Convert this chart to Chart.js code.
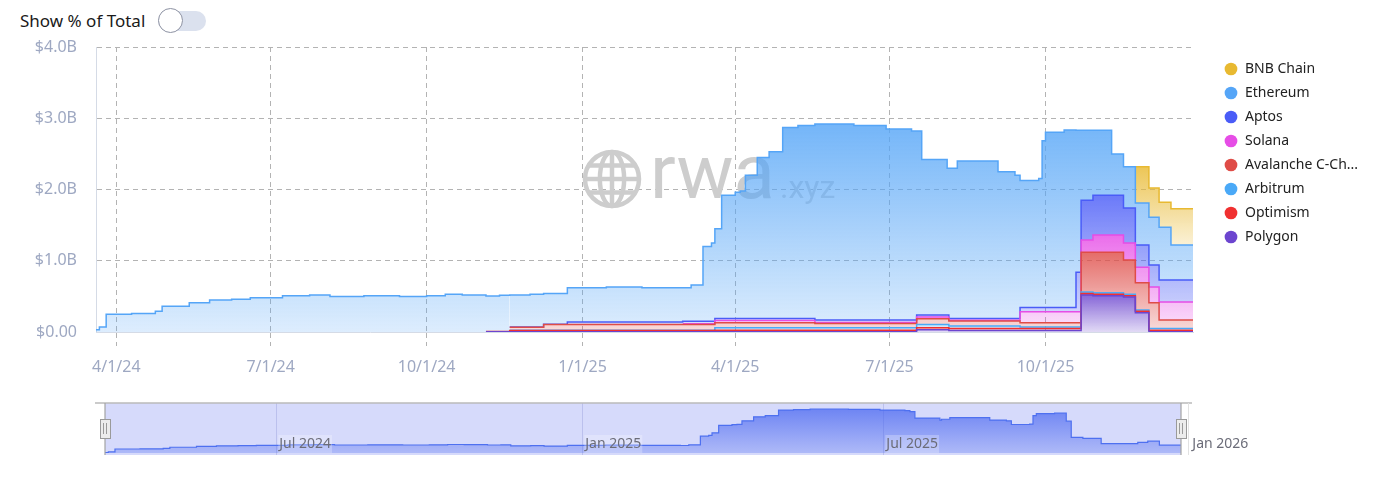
<!DOCTYPE html>
<html><head><meta charset="utf-8">
<script src="https://cdn.jsdelivr.net/npm/chart.js@4.4.1/dist/chart.umd.min.js"></script>
<style>
html,body{margin:0;padding:0;background:#fff;}
body{width:1389px;height:482px;position:relative;overflow:hidden;font-family:"Noto Sans",sans-serif;}
#toggleLabel{position:absolute;left:20px;top:8px;font-size:17px;color:#1a1a1a;line-height:26px;}
#track{position:absolute;left:158px;top:11px;width:48px;height:20px;border-radius:10px;background:#dbe1ee;}
#knob{position:absolute;left:158px;top:8px;width:25px;height:25px;border-radius:50%;background:#fff;border:1px solid #8d92a3;box-sizing:border-box;}
#mainWrap{position:absolute;left:0;top:0;width:1389px;height:380px;}
#navWrap{position:absolute;left:0;top:395px;width:1389px;height:75px;}
</style></head>
<body>
<div id="toggleLabel">Show % of Total</div>
<div id="track"></div><div id="knob"></div>
<div id="mainWrap"><canvas id="main" width="1389" height="380"></canvas></div>
<div id="navWrap"><canvas id="nav" width="1389" height="75"></canvas></div>
<script>
// ---------- DATA ----------
const dates = [
 '2024-03-20','2024-03-22','2024-03-26','2024-04-10','2024-04-24','2024-04-28','2024-05-14','2024-05-26','2024-06-08','2024-06-19',
 '2024-07-08','2024-07-24','2024-08-05','2024-08-25','2024-09-15','2024-10-01','2024-10-12','2024-10-22','2024-11-05','2024-11-13',
 '2024-11-19','2024-12-01','2024-12-09','2024-12-23','2025-01-15','2025-02-05','2025-03-01','2025-03-06','2025-03-13','2025-03-18',
 '2025-03-20','2025-03-24','2025-04-01','2025-04-04','2025-04-07','2025-04-14','2025-04-21','2025-04-29','2025-05-08','2025-05-18',
 '2025-06-10','2025-06-29','2025-07-14','2025-07-17','2025-07-20','2025-08-04','2025-08-05','2025-08-10','2025-09-03','2025-09-13',
 '2025-09-16','2025-09-27','2025-09-29','2025-10-01','2025-10-12','2025-10-19','2025-10-22','2025-10-29','2025-11-09','2025-11-16',
 '2025-11-23','2025-12-01','2025-12-07','2025-12-14','2025-12-27'
];
// values in $B
const polygon = [
 0,0,0,0,0,0,0,0,0,0,
 0,0,0,0,0,0,0,0,0.003,0.003,
 0.005,0.005,0.005,0.005,0.005,0.005,0.005,0.005,0.005,0.005,
 0.005,0.005,0.005,0.005,0.005,0.005,0.005,0.005,0.005,0.005,
 0.005,0.005,0.005,0.03,0.03,0.03,0.02,0.02,0.02,0.02,
 0.02,0.02,0.02,0.02,0.02,0.02,0.52,0.51,0.51,0.49,
 0.27,0.005,0.005,0.005,0.005];
const optimism = [
 0,0,0,0,0,0,0,0,0,0,
 0,0,0,0,0,0,0,0,0.003,0.003,
 0.015,0.015,0.015,0.015,0.015,0.015,0.015,0.015,0.015,0.015,
 0.02,0.02,0.02,0.02,0.02,0.02,0.02,0.02,0.02,0.02,
 0.02,0.02,0.02,0.03,0.03,0.03,0.03,0.03,0.03,0.03,
 0.03,0.03,0.03,0.03,0.03,0.03,0.02,0.02,0.02,0.02,
 0.02,0.02,0.02,0.02,0.02];
const arbitrum = [
 0,0,0,0,0,0,0,0,0,0,
 0,0,0,0,0,0,0,0,0,0,
 0.005,0.005,0.005,0.005,0.005,0.005,0.005,0.005,0.005,0.005,
 0.035,0.035,0.035,0.035,0.035,0.035,0.035,0.035,0.035,0.035,
 0.035,0.035,0.035,0.045,0.045,0.045,0.035,0.035,0.035,0.035,
 0.02,0.02,0.02,0.02,0.02,0.02,0.02,0.02,0.02,0.02,
 0.02,0.025,0.025,0.025,0.025];
const avalanche = [
 0,0,0,0,0,0,0,0,0,0,
 0,0,0,0,0,0,0,0,0,0,
 0.04,0.04,0.08,0.08,0.08,0.08,0.08,0.08,0.08,0.08,
 0.07,0.07,0.07,0.07,0.07,0.07,0.07,0.07,0.07,0.06,
 0.06,0.06,0.06,0.08,0.08,0.08,0.07,0.07,0.07,0.07,
 0.06,0.06,0.06,0.06,0.06,0.06,0.56,0.57,0.57,0.48,
 0.38,0.36,0.12,0.12,0.12];
const solana = [
 0,0,0,0,0,0,0,0,0,0,
 0,0,0,0,0,0,0,0,0,0,
 0,0,0,0,0,0,0.01,0.01,0.01,0.01,
 0.03,0.03,0.03,0.03,0.03,0.03,0.03,0.03,0.03,0.015,
 0.015,0.015,0.015,0.025,0.025,0.025,0.01,0.01,0.01,0.01,
 0.155,0.155,0.155,0.155,0.155,0.155,0.17,0.24,0.24,0.24,
 0.22,0.22,0.25,0.25,0.25];
const aptos = [
 0,0,0,0,0,0,0,0,0,0,
 0,0,0,0,0,0,0,0,0,0,
 0.005,0.005,0.005,0.035,0.035,0.035,0.035,0.035,0.035,0.035,
 0.03,0.03,0.03,0.03,0.03,0.03,0.03,0.03,0.03,0.035,
 0.035,0.035,0.035,0.03,0.03,0.03,0.025,0.025,0.025,0.025,
 0.06,0.06,0.06,0.06,0.06,0.555,0.56,0.56,0.56,0.49,
 0.31,0.31,0.31,0.31,0.31];
const ethereum = [
 0.03,0.07,0.25,0.26,0.29,0.36,0.41,0.45,0.46,0.48,
 0.51,0.52,0.50,0.51,0.50,0.51,0.53,0.52,0.50,0.51,
 0.45,0.46,0.43,0.48,0.49,0.48,0.47,0.51,1.05,1.10,
 1.26,1.73,1.77,1.79,2.01,2.26,2.34,2.68,2.71,2.75,
 2.73,2.68,2.65,2.58,2.18,2.06,2.11,2.21,2.06,2.01,
 1.78,1.81,2.34,2.46,2.49,1.99,0.98,0.91,0.58,0.58,
 0.59,0.67,0.74,0.49,0.49];
const bnbChain = [
 0,0,0,0,0,0,0,0,0,0,
 0,0,0,0,0,0,0,0,0,0,
 0,0,0,0,0,0,0,0,0,0,
 0,0,0,0,0,0,0,0,0,0,
 0,0,0,0,0,0,0,0,0,0,
 0,0,0,0,0,0,0,0,0,0,
 0.51,0.41,0.35,0.51,0.51];

const tickDates = ['2024-04-01','2024-07-01','2024-10-01','2025-01-01','2025-04-01','2025-07-01','2025-10-01'];
const tickLabels = ['4/1/24','7/1/24','10/1/24','1/1/25','4/1/25','7/1/25','10/1/25'];
const navTickDates = ['2024-07-01','2025-01-01','2025-07-01','2026-01-01'];
const navTickLabels = ['Jul 2024','Jan 2025','Jul 2025','Jan 2026'];
const rangeStart = '2024-03-20', rangeEnd = '2025-12-27';

// ---------- helpers ----------
const DAY = 86400000;
const dayNum = s => Date.UTC(+s.slice(0,4), +s.slice(5,7)-1, +s.slice(8,10)) / DAY;
Chart.defaults.font.family = '"Noto Sans", sans-serif';

// bottom-to-top stacking order
const series = [
  {label:'Polygon', data:polygon, rgb:'108,69,207'},
  {label:'Optimism', data:optimism, rgb:'240,48,48'},
  {label:'Arbitrum', data:arbitrum, rgb:'74,169,247'},
  {label:'Avalanche C-Chain', data:avalanche, rgb:'223,76,71'},
  {label:'Solana', data:solana, rgb:'230,77,230'},
  {label:'Aptos', data:aptos, rgb:'74,92,247'},
  {label:'Ethereum', data:ethereum, rgb:'85,165,247'},
  {label:'BNB Chain', data:bnbChain, rgb:'232,185,49'}
];
// cumulative extents for per-area gradients
const cum = [];
const topMax = [], botMin = [];
series.forEach((s,i)=>{
  cum[i] = s.data.map((v,k)=> v + (i>0 ? cum[i-1][k] : 0));
  let t = 0, b = Infinity;
  s.data.forEach((v,k)=>{ if (v>0){ t = Math.max(t, cum[i][k]); b = Math.min(b, i>0 ? cum[i-1][k] : 0); } });
  topMax[i] = t; botMin[i] = (b===Infinity?0:b);
});
function makeFill(i, rgb){
  return (c)=>{
    const ch = c.chart, y = ch.scales && ch.scales.y;
    if (!ch.chartArea || !y) return `rgba(${rgb},0.5)`;
    const top = y.getPixelForValue(topMax[i]);
    const bot = Math.max(y.getPixelForValue(botMin[i]), top+1);
    const g = ch.ctx.createLinearGradient(0, top, 0, bot);
    g.addColorStop(0, `rgba(${rgb},0.82)`);
    g.addColorStop(1, `rgba(${rgb},0.2)`);
    return g;
  };
}

const datasets = series.map((s,i)=>({
  label: s.label,
  data: dates.map((d,k)=>({x:dayNum(d), y:s.data[k]})),
  borderColor: `rgb(${s.rgb})`,
  backgroundColor: makeFill(i, s.rgb),
  borderWidth: 1.5,
  fill: i===0 ? 'origin' : '-1',
  stepped: true,
  pointRadius: 0,
  pointHoverRadius: 0,
  segment: { borderColor: c => c.p0.parsed.y === 0 ? 'rgba(0,0,0,0)' : undefined }
}));

const watermark = {
  id:'watermark',
  beforeDatasetsDraw(chart){
    const ctx = chart.ctx; ctx.save();
    ctx.strokeStyle = '#cdcdcd'; ctx.lineWidth = 4.5;
    const cx = 612, cy = 179, r = 27;
    ctx.beginPath(); ctx.arc(cx,cy,r,0,Math.PI*2); ctx.stroke();
    ctx.beginPath(); ctx.ellipse(cx,cy,r*0.45,r,0,0,Math.PI*2); ctx.stroke();
    ctx.beginPath(); ctx.moveTo(cx,cy-r); ctx.lineTo(cx,cy+r); ctx.moveTo(cx-r,cy); ctx.lineTo(cx+r,cy); ctx.stroke();
    const dy = r*0.5, hw = Math.sqrt(r*r-dy*dy);
    ctx.beginPath(); ctx.moveTo(cx-hw,cy-dy); ctx.lineTo(cx+hw,cy-dy); ctx.moveTo(cx-hw,cy+dy); ctx.lineTo(cx+hw,cy+dy); ctx.stroke();
    ctx.fillStyle = '#cdcdcd'; ctx.textBaseline = 'alphabetic'; ctx.textAlign = 'left';
    ctx.font = '76px Roboto'; ctx.fillText('rwa', 650, 198);
    ctx.fillStyle = '#d4d4d4'; ctx.font = '32px Roboto'; ctx.fillText('.xyz', 780, 198);
    ctx.restore();
  }
};

const legendPos = {
  id:'legendPos',
  beforeLayout(chart){
    const lg = chart.legend;
    if (lg && !lg.__p){ const f = lg.fit; lg.fit = function(){ f.call(this); this.width = 196; }; lg.__p = true; }
  },
  afterLayout(chart){
    const lg = chart.legend; if (!lg) return;
    lg.left = 1214; lg.right = 1389; lg.top = 52; lg.bottom = 380;
  }
};

new Chart(document.getElementById('main'), {
  type:'line',
  data:{datasets},
  options:{
    responsive:false, animation:false,
    layout:{padding:{left:0,right:0,top:47,bottom:0}},
    interaction:{mode:'nearest', intersect:false},
    scales:{
      x:{
        type:'linear', min:dayNum(rangeStart), max:dayNum(rangeEnd), z:1,
        afterBuildTicks: s => { s.ticks = tickDates.map(d=>({value:dayNum(d)})); },
        afterFit: s => { s.height = 48; },
        ticks:{autoSkip:false, maxRotation:0, padding:12, color:'#9ea8c2', font:{size:16}, callback:(v,i)=>tickLabels[i]},
        grid:{color:'#b3b3b3', lineWidth:1, drawTicks:true, tickLength:14, tickColor:'#b3b3b3', tickBorderDash:[5,4]},
        border:{display:true, color:'#d5dbe6', dash:[5,4]}
      },
      y:{
        stacked:true, min:0, max:4, z:1,
        afterFit: s => { s.width = 96; },
        ticks:{stepSize:1, padding:19, color:'#9ea8c2', font:{size:16}, callback:v => v===0 ? '$0.00' : '$'+v.toFixed(1)+'B'},
        grid:{color: c => (c.tick && c.tick.value===0) ? 'rgba(0,0,0,0)' : '#b3b3b3', drawTicks:false},
        border:{display:true, color:'#d5dbe6', dash:[5,4]}
      }
    },
    plugins:{
      tooltip:{enabled:false},
      legend:{
        position:'right', align:'start', reverse:true,
        labels:{
          usePointStyle:true, pointStyle:'circle', boxWidth:14, boxHeight:9, padding:10,
          color:'#222', font:{size:14},
          generateLabels(chart){
            return chart.data.datasets.map((ds,i)=>({
              text: ds.label.length>14 ? ds.label.slice(0,14)+'...' : ds.label,
              fillStyle:`rgb(${series[i].rgb})`, strokeStyle:`rgb(${series[i].rgb})`,
              lineWidth:0, pointStyle:'circle', hidden:false, datasetIndex:i, fontColor:'#222'
            }));
          }
        }
      }
    }
  },
  plugins:[watermark, legendPos]
});

// ---------- navigator ----------
const navDeco = {
  id:'navDeco',
  beforeDatasetsDraw(chart){
    const ctx = chart.ctx, a = chart.chartArea, xs = chart.scales.x;
    ctx.save();
    ctx.fillStyle = 'rgb(214,218,251)';
    ctx.fillRect(a.left, a.top, a.right-a.left, a.bottom+2-a.top);
    ctx.strokeStyle = 'rgba(165,172,225,0.55)'; ctx.lineWidth = 1;
    navTickDates.slice(0,3).forEach(d=>{
      const px = Math.round(xs.getPixelForValue(dayNum(d)))+0.5;
      ctx.beginPath(); ctx.moveTo(px,a.top); ctx.lineTo(px,a.bottom+2); ctx.stroke();
    });
    ctx.restore();
  },
  afterDatasetsDraw(chart){
    const ctx = chart.ctx, a = chart.chartArea, xs = chart.scales.x;
    ctx.save();
    ctx.strokeStyle = '#bababa'; ctx.lineWidth = 1.5;
    ctx.beginPath(); ctx.moveTo(95, a.top); ctx.lineTo(1192, a.top); ctx.stroke();
    ctx.strokeStyle = '#e2e2e2'; ctx.lineWidth = 1;
    ctx.beginPath(); ctx.moveTo(1188.5, a.top); ctx.lineTo(1188.5, a.bottom+2); ctx.stroke();
    ctx.font = '14px "Noto Sans"'; ctx.textBaseline = 'middle'; ctx.textAlign = 'left';
    navTickDates.forEach((d,i)=>{
      const px = xs.getPixelForValue(dayNum(d)) + 3;
      const w = ctx.measureText(navTickLabels[i]).width;
      if (i<3){ ctx.fillStyle = 'rgba(255,255,255,0.25)'; ctx.fillRect(px-1, 40, w+2, 18); }
      ctx.fillStyle = '#6b6c78';
      ctx.fillText(navTickLabels[i], px, 49);
    });
    [a.left, a.right].forEach(hx=>{
      ctx.strokeStyle = '#a3a3a3'; ctx.lineWidth = 1.2;
      ctx.beginPath(); ctx.moveTo(hx, a.top); ctx.lineTo(hx, a.bottom+2); ctx.stroke();
      ctx.fillStyle = '#ececec'; ctx.strokeStyle = '#9a9a9a'; ctx.lineWidth = 1;
      ctx.fillRect(hx-5, 24, 10, 19); ctx.strokeRect(hx-5+0.5, 24.5, 10, 19);
      ctx.beginPath(); ctx.moveTo(hx-1.5, 28); ctx.lineTo(hx-1.5, 39); ctx.moveTo(hx+1.5, 28); ctx.lineTo(hx+1.5, 39); ctx.stroke();
    });
    ctx.restore();
  }
};
function navFill(c){
  const ch = c.chart, a = ch.chartArea;
  if (!a) return 'rgba(78,112,240,0.5)';
  const g = ch.ctx.createLinearGradient(0, a.top, 0, a.bottom);
  g.addColorStop(0, 'rgba(70,100,240,0.78)');
  g.addColorStop(1, 'rgba(70,100,240,0.28)');
  return g;
}
new Chart(document.getElementById('nav'), {
  type:'line',
  data:{datasets:[{
    label:'Ethereum',
    data: dates.map((d,k)=>({x:dayNum(d), y:ethereum[k]})),
    stepped:true, fill:'origin', borderColor:'rgb(78,112,240)', borderWidth:1.2,
    pointRadius:0, backgroundColor:navFill
  }]},
  options:{
    responsive:false, animation:false,
    layout:{padding:{left:105, right:1389-1181, top:8, bottom:17}},
    scales:{
      x:{type:'linear', display:false, min:dayNum(rangeStart), max:dayNum(rangeEnd)},
      y:{display:false, min:0, max:3.125}
    },
    plugins:{legend:{display:false}, tooltip:{enabled:false}}
  },
  plugins:[navDeco]
});
</script>
</body></html>
